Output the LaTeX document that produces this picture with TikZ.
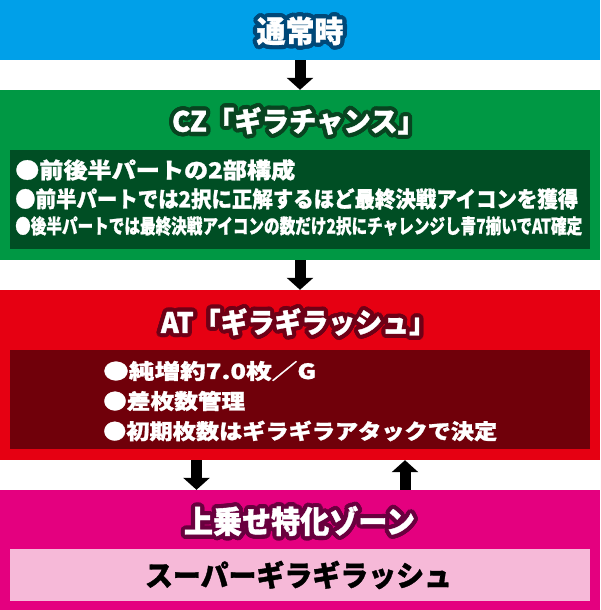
\documentclass[tikz,border=0pt]{standalone}
\usepackage{fontspec}
\usepackage{graphicx}
\newfontfamily\jp{Noto Sans CJK JP}[BoldFeatures={FakeBold=1.2}]
\usetikzlibrary{arrows.meta}
\definecolor{cblue}{RGB}{0,160,233}
\definecolor{cblueO}{RGB}{0,72,120}
\definecolor{cgreen}{RGB}{0,152,68}
\definecolor{cgreenD}{RGB}{0,78,36}
\definecolor{cgreenO}{RGB}{8,68,32}
\definecolor{cred}{RGB}{230,0,18}
\definecolor{credD}{RGB}{112,0,10}
\definecolor{credO}{RGB}{110,0,22}
\definecolor{cmag}{RGB}{228,0,127}
\definecolor{cmagO}{RGB}{105,0,62}
\definecolor{cpink}{RGB}{246,185,216}
\newcommand\fs[1]{\fontsize{#1}{#1}\selectfont}
\newcommand\jb[1]{\jp\bfseries\fs{#1}}
\newcommand\otitle[6]{%
  \foreach \a in {0,20,...,340}{%
    \node[ttl,text=#4] (#1-o\a) at ([shift={(\a:4.2)}]#2,#3) {\resizebox{#5pt}{\height}{#6}};
    \node[ttl,text=#4] (#1-i\a) at ([shift={(\a:2.2)}]#2,#3) {\resizebox{#5pt}{\height}{#6}};}
  \node[ttl,text=white] (#1) at (#2,#3) {\resizebox{#5pt}{\height}{#6}};}
\newcommand\bline[6]{% name, x, y, width, size, text
  \node[ln] (#1) at (#2,#3) {\resizebox{#4pt}{\height}{\jb{#5}#6}};}
\begin{document}
\begin{tikzpicture}[x=1pt,y=-1pt,
  band/.style={rectangle,inner sep=0pt,minimum width=600pt,draw=none},
  inbox/.style={rectangle,inner sep=0pt,minimum width=580pt,draw=none},
  ttl/.style={inner sep=0pt},
  ln/.style={inner sep=0pt,anchor=west,text=white},
  blk/.style={line width=11pt,draw=black,-{Triangle[width=26pt,length=12pt]}}]
\useasboundingbox (0,0) rectangle (600,610);
% bands
\node[band,fill=cblue,minimum height=60pt] (nblue) at (300,30) {};
\node[band,fill=cgreen,minimum height=170pt] (ngreen) at (300,175) {};
\node[band,fill=cred,minimum height=170pt] (nred) at (300,375) {};
\node[band,fill=cmag,minimum height=120pt] (nmag) at (300,550) {};
% inner boxes
\node[inbox,fill=cgreenD,minimum height=99pt] (gbox) at (300,199.5) {};
\node[inbox,fill=credD,minimum height=99pt] (rbox) at (300,399.5) {};
\node[inbox,fill=cpink,minimum height=52pt] (pbox) at (300,575) {};
% titles
\otitle{t1}{300}{31}{cblueO}{87}{\jb{30}通常時}
\otitle{t2}{298.5}{121}{cgreenO}{253}{\jb{28}CZ「ギラチャンス」}
\otitle{t3}{298.5}{322}{credO}{275}{\jb{28}AT「ギラギラッシュ」}
\otitle{t4}{299.5}{521}{cmagO}{231}{\jb{31}上乗せ特化ゾーン}
\node[ttl,text=black] (t5) at (298.5,575) {\resizebox{307pt}{\height}{\jb{29}スーパーギラギラッシュ}};
% green box text
\bline{g1}{15}{170}{280}{22}{●前後半パートの2部構成}
\bline{g2}{15}{199}{563}{22}{●前半パートでは2択に正解するほど最終決戦アイコンを獲得}
\bline{g3}{15}{226}{567}{20}{●後半パートでは最終決戦アイコンの数だけ2択にチャレンジし青7揃いでAT確定}
% red box text
\bline{r1}{103}{371}{213}{21}{●純増約7.0枚／G}
\bline{r2}{103}{401}{142}{21}{●差枚数管理}
\bline{r3}{103}{431}{394}{21}{●初期枚数はギラギラアタックで決定}
% arrows
\coordinate (cA) at (300,0);
\coordinate (cD) at (196.5,0);
\coordinate (cU) at (405,0);
\draw[blk] (nblue.south -| cA) -- (ngreen.north -| cA);
\draw[blk] (ngreen.south -| cA) -- (nred.north -| cA);
\draw[blk] (nred.south -| cD) -- (nmag.north -| cD);
\draw[blk] (nmag.north -| cU) -- (nred.south -| cU);
\end{tikzpicture}
\end{document}
